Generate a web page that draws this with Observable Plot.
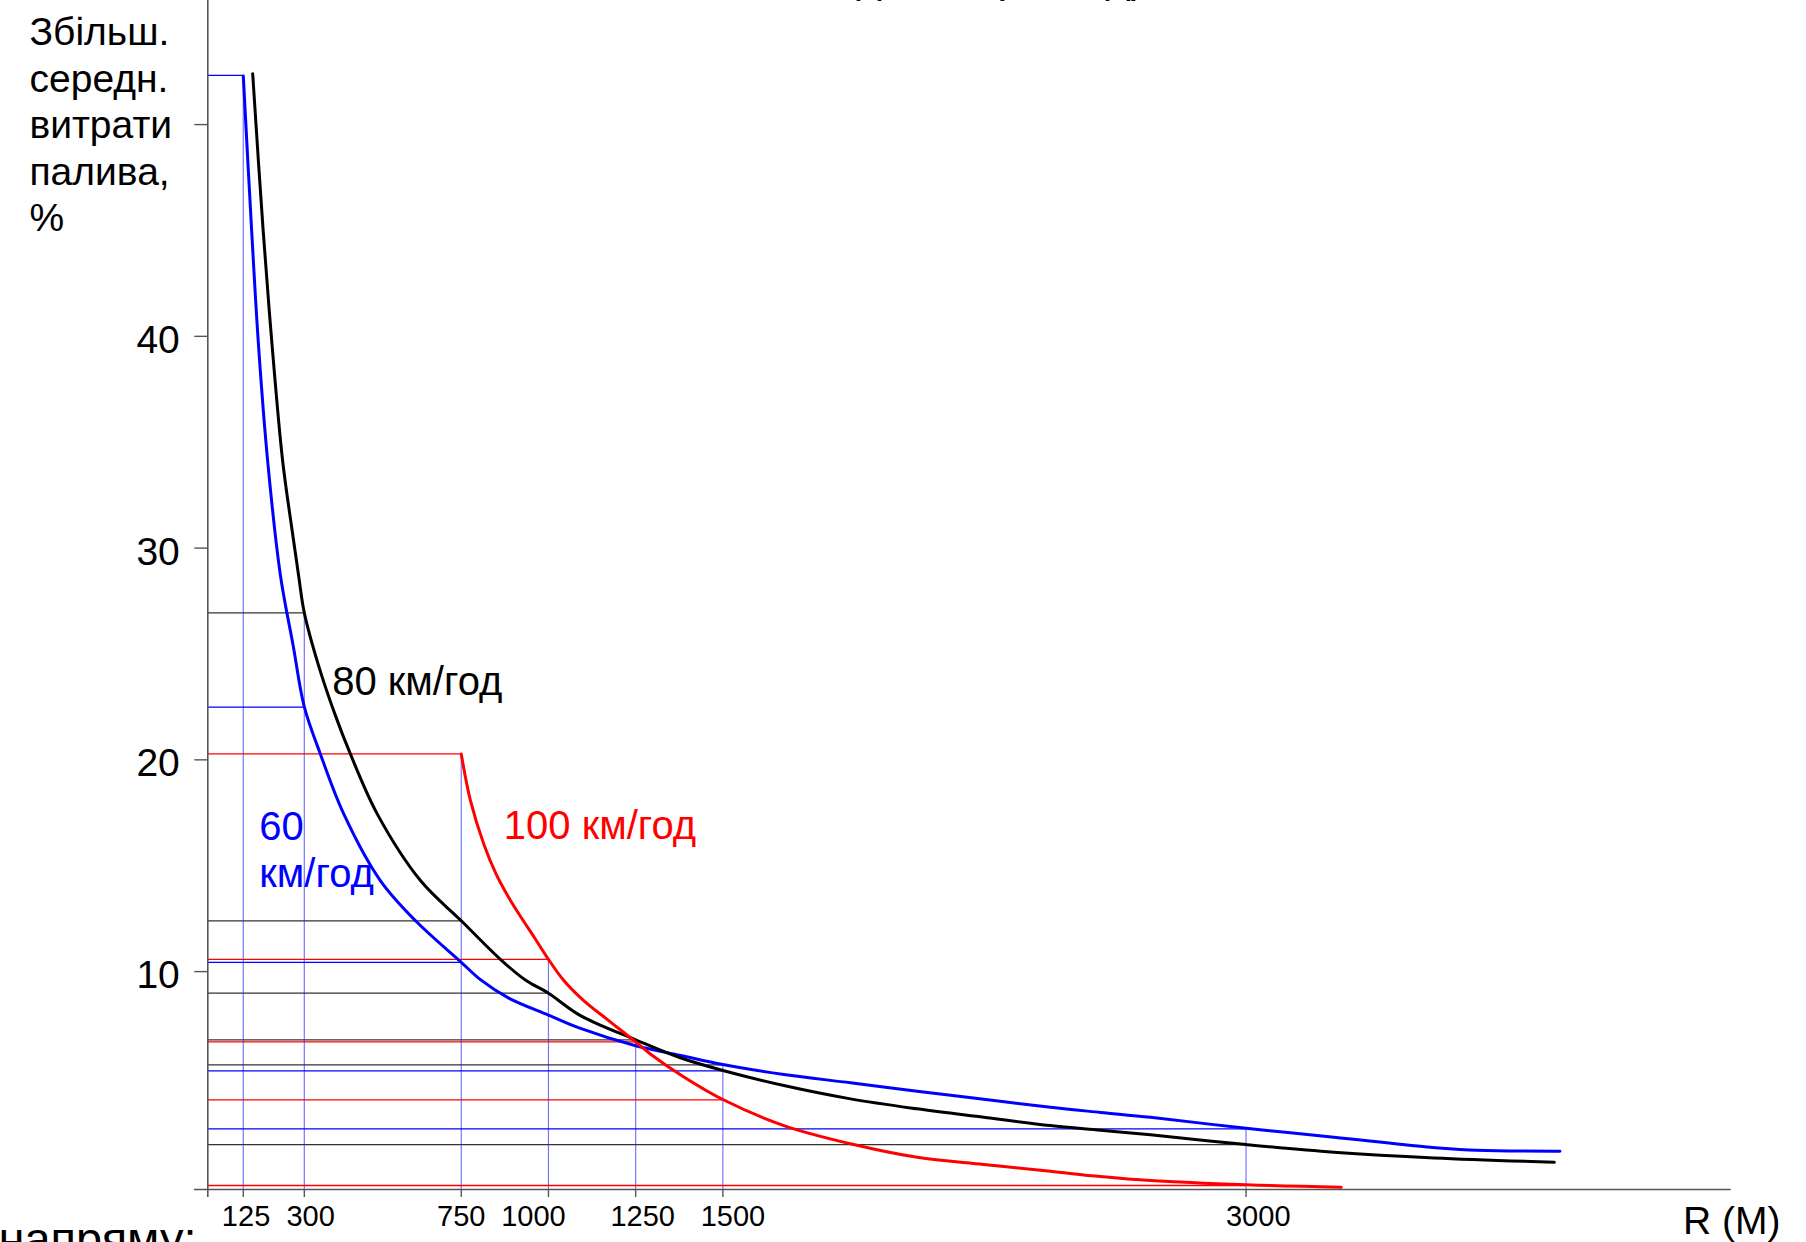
<!DOCTYPE html>
<html>
<head>
<meta charset="utf-8">
<script src="https://cdn.jsdelivr.net/npm/d3@7"></script>
<script src="https://cdn.jsdelivr.net/npm/@observablehq/plot@0.6"></script>
<style>
  html, body { margin: 0; padding: 0; background: #fff; }
  #chart svg { display: block; }
</style>
</head>
<body>
<div id="chart"></div>
<script>
// ---------- data ----------
// curve 60 km/h (blue)
const r60 = [125, 149, 169, 195, 232, 268, 300, 346, 413, 518, 619, 750, 805, 886, 1000, 1092, 1250, 1379, 1500, 1675, 1866, 2057, 2248, 2439, 2583, 2726, 3000, 3252, 3519, 3640, 3760, 3900];
const v60 = [52.3, 45.0, 39.5, 34.1, 28.66, 25.4, 22.5, 20.28, 17.45, 14.3, 12.4, 10.44, 9.62, 8.75, 7.95, 7.32, 6.5, 6.04, 5.61, 5.14, 4.75, 4.35, 3.97, 3.59, 3.35, 3.12, 2.6, 2.18, 1.72, 1.58, 1.53, 1.52];

// curve 80 km/h (black)
const r80 = [152, 182, 208, 238, 265, 284, 300, 340, 389, 432, 509, 633, 750, 862, 934, 1000, 1092, 1250, 1378, 1500, 1675, 1866, 2057, 2248, 2439, 2583, 2726, 3000, 3252, 3539, 3884];
const v80 = [52.4, 45.0, 39.5, 34.1, 30.84, 28.66, 26.94, 24.5, 22.1, 20.28, 17.45, 14.3, 12.4, 10.58, 9.6, 8.98, 7.92, 6.78, 5.93, 5.33, 4.62, 3.99, 3.52, 3.12, 2.73, 2.51, 2.29, 1.83, 1.47, 1.20, 1.0];

// curve 100 km/h (red)
const r100 = [750, 776, 815, 850, 886, 920, 960, 1000, 1044, 1101, 1170, 1250, 1293, 1386, 1500, 1675, 1866, 2057, 2248, 2439, 2583, 2726, 3000, 3273];
const v100 = [20.28, 18.1, 16.0, 14.6, 13.5, 12.6, 11.6, 10.58, 9.58, 8.63, 7.72, 6.68, 6.1, 5.05, 3.96, 2.73, 1.87, 1.23, 0.89, 0.57, 0.32, 0.13, -0.07, -0.18];

// horizontal reference lines: level, radius where it stops, series
const hLevel  = [52.32, 26.94, 22.49, 20.28, 12.40, 10.58, 10.44, 8.98, 6.78, 6.68, 5.60, 5.31, 3.94, 2.57, 1.83, -0.10];
const hRadius = [125,   300,   300,   750,   750,   1000,  750,   1000, 1250, 1250, 1500, 1500, 1500, 3000, 3000, 3000];
const hSeries = ["60",  "80",  "60",  "100", "80",  "100", "60",  "80", "80", "100", "80", "60", "100", "60", "80", "100"];

// vertical reference lines: radius and top level
const vRadius = [125, 300, 750, 1000, 1250, 1500, 3000];
const vTop    = [52.32, 26.94, 20.28, 10.58, 6.78, 5.60, 2.57];

// ticks and their labels (labels sit a little off their ticks, as in the source)
const xTicks = [125, 300, 750, 1000, 1250, 1500, 3000];
const xTickText = ["125", "300", "750", "1000", "1250", "1500", "3000"];
const xTickTextAt = [133, 318, 750, 957, 1270, 1529, 3035];
const yTicks = [10, 20, 30, 40, 50];
const yTickText = ["10", "20", "30", "40", ""];

// texts
const yTitle = "Збільш.\nсередн.\nвитрати\nпалива,\n%";
const xTitle = "R (M)";
const topTitle = "швидкості (км/год)";
const bottomNote = "напряму:";
const labelText = ["80 км/год", "60", "км/год", "100 км/год"];
const labelSeries = ["80", "60", "60", "100"];
const labelAtR = [380, 171, 171, 872];
const labelAtV = [23.68, 16.84, 14.62, 16.89];

// ---------- layout constants ----------
const X_DOMAIN = [23.3, 4391];
const Y_DOMAIN = [-0.29, 55.86];
const X_OVERHANG = -15;     // x-axis line sticks out left of the y axis
const Y_OVERHANG = -0.67;   // y-axis line / ticks stick out below the x axis
const Y_TICK_START = -14;   // left end of the y-axis tick marks

const colorOf = {"60": "#0000ff", "80": "#000000", "100": "#ff0000"};
const thinColorOf = {"60": "#0000ff", "80": "#333333", "100": "#ff0000"};

// ---------- build rows ----------
const curveRows = [
  ...r60.map((r, i) => ({s: "60", r, v: v60[i]})),
  ...r80.map((r, i) => ({s: "80", r, v: v80[i]})),
  ...r100.map((r, i) => ({s: "100", r, v: v100[i]}))
];
const hRows = hLevel.map((v, i) => ({v, r: hRadius[i], s: hSeries[i]}));
const vRows = vRadius.map((r, i) => ({r, v: vTop[i]}));
const xLabelRows = xTickText.map((t, i) => ({t, r: xTickTextAt[i]}));
const yLabelRows = yTickText.map((t, i) => ({t, v: yTicks[i]}));
const labelRows = labelText.map((t, i) => ({t, s: labelSeries[i], r: labelAtR[i], v: labelAtV[i]}));

const font = "'Liberation Sans', Arial, Helvetica, sans-serif";

const chart = Plot.plot({
  width: 1806,
  height: 1242,
  marginLeft: 207.3,
  marginRight: 75.3,
  marginTop: 0,
  marginBottom: 53,
  x: {domain: X_DOMAIN, label: null, axis: null},
  y: {domain: Y_DOMAIN, label: null, axis: null},
  color: {type: "identity"},
  style: {fontFamily: font, background: "#fff", overflow: "visible", color: "#000"},
  marks: [
    // thin guide lines
    Plot.ruleX(vRows, {x: "r", y1: Y_DOMAIN[0], y2: "v", stroke: "#3a3aff", strokeOpacity: 0.7, strokeWidth: 1.2}),
    Plot.ruleY(hRows, {y: "v", x1: X_DOMAIN[0], x2: "r", stroke: d => thinColorOf[d.s], strokeWidth: 1.3}),
    // axis lines
    Plot.ruleY([Y_DOMAIN[0]], {x1: X_OVERHANG, x2: X_DOMAIN[1], stroke: "#555", strokeWidth: 1.6}),
    Plot.ruleX([X_DOMAIN[0]], {y1: Y_OVERHANG, y2: Y_DOMAIN[1], stroke: "#555", strokeWidth: 1.6}),
    // x ticks and labels
    Plot.ruleX(xTicks, {x: d => d, y1: Y_DOMAIN[0], y2: Y_OVERHANG, stroke: "#555", strokeWidth: 1.4}),
    Plot.text(xLabelRows, {x: "r", y: () => Y_DOMAIN[0], text: "t", dy: 27, fontSize: 29, lineAnchor: "middle", fill: "#000"}),
    // y ticks and labels
    Plot.ruleY(yTicks, {y: d => d, x1: Y_TICK_START, x2: X_DOMAIN[0], stroke: "#555", strokeWidth: 1.4}),
    Plot.text(yLabelRows, {x: () => X_DOMAIN[0], y: "v", text: "t", dx: -28, dy: 4, textAnchor: "end", lineAnchor: "middle", fontSize: 39, fill: "#000"}),
    // curves
    Plot.line(curveRows, {x: "r", y: "v", z: "s", stroke: d => colorOf[d.s], strokeWidth: 3, curve: "catmull-rom"}),
    // curve labels
    Plot.text(labelRows, {x: "r", y: "v", text: "t", fill: d => colorOf[d.s], fontSize: 40, textAnchor: "start", lineAnchor: "middle"}),
    // axis titles and cut-off texts
    Plot.text([yTitle], {frameAnchor: "top-left", dx: -178.3, dy: 12, text: d => d, textAnchor: "start", lineAnchor: "top", lineHeight: 1.19, fontSize: 39, fill: "#000"}),
    Plot.text([xTitle], {frameAnchor: "bottom-right", dx: 49.3, dy: 32, text: d => d, textAnchor: "end", lineAnchor: "middle", fontSize: 39, fill: "#000"}),
    Plot.text([bottomNote], {frameAnchor: "bottom-left", dx: -11.3, dy: 50, text: d => d, textAnchor: "end", lineAnchor: "middle", fontSize: 47, fill: "#000"}),
    Plot.text([topTitle], {frameAnchor: "top", dx: 176, dy: -23, text: d => d, textAnchor: "end", lineAnchor: "middle", fontSize: 44, fill: "#000"})
  ]
});

document.getElementById("chart").appendChild(chart);
</script>
</body>
</html>
